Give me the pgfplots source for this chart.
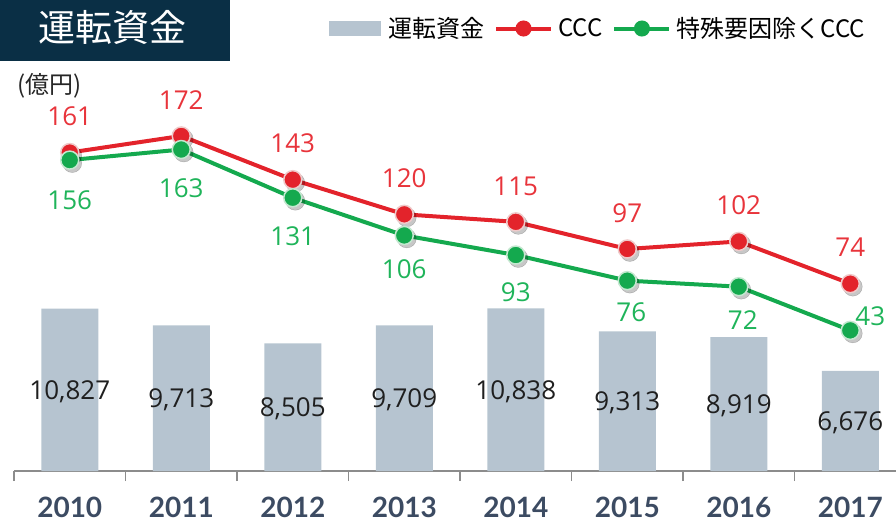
\documentclass[border=0pt]{standalone}
\usepackage{pgfplots}
\pgfplotsset{compat=1.18}
\usepackage{pgfplotstable}
\usepackage{fontspec}
\setmainfont{Open Sans}
\newfontfamily\cjk{Noto Sans CJK JP}
\newfontfamily\lato{Lato}
\definecolor{barc}{HTML}{B6C4D0}
\definecolor{redc}{HTML}{E3232B}
\definecolor{greenc}{HTML}{14A94E}
\definecolor{redt}{HTML}{E8343B}
\definecolor{greent}{HTML}{1FB45A}
\definecolor{navy}{HTML}{0A2F45}
\definecolor{yearc}{HTML}{3C4B62}
\definecolor{axisc}{HTML}{8C8C8C}
\definecolor{redb}{HTML}{EFCACA}
\definecolor{greenb}{HTML}{C4E8D0}

\pgfplotstableread{
x val lab
0 10827 10,827
1 9713 9,713
2 8505 8,505
3 9709 9,709
4 10838 10,838
5 9313 9,313
6 8919 8,919
7 6676 6,676
}\bars

\pgfplotstableread{
x ccc dy dx
0 161 36 0
1 172 36 0
2 143 36 0
3 120 36 0
4 115 36 0
5 97 36 0
6 102 36 0
7 74 36 0
}\red

\pgfplotstableread{
x ccc dy dx
0 156 -40 0
1 163 -39 0
2 131 -38 0
3 106 -34 0
4 93 -37 0
5 76 -32 4
6 72 -33 4
7 43 14 20
}\green

\pgfplotsset{base/.style={scale only axis, width=882pt, height=411pt,
  xmin=-0.5, xmax=7.41, at={(14pt,52pt)}, anchor=south west,
  enlargelimits=false, clip=false}}

\begin{document}
\begin{tikzpicture}
\useasboundingbox (0,0) rectangle (896pt,523pt);
% bars
\begin{axis}[base, ymin=0, ymax=27400,
  axis x line*=bottom, axis y line=none,
  axis line style={axisc, line width=1.5pt},
  xtick={0,...,7}, xticklabels={2010,2011,2012,2013,2014,2015,2016,2017},
  major tick length=0pt,
  minor xtick={-0.5,0.5,...,6.5}, minor tick length=10pt,
  tick align=outside, minor tick style={axisc, line width=1.5pt},
  xticklabel style={font=\lato\bfseries\fontsize{28}{28}\selectfont, text=yearc,
    anchor=north, inner sep=0pt, yshift=-26pt}]
\addplot[ybar, bar width=57pt, fill=barc, draw=none] table[x=x,y=val]{\bars};
\addplot[draw=none, mark=none, nodes near coords, point meta=explicit symbolic,
  every node near coord/.append style={font=\fontsize{26}{26}\selectfont,
    text=black!88, anchor=center, inner sep=0pt, yshift=-2pt}]
  table[x=x, y expr=\thisrow{val}/2, meta=lab]{\bars};
\end{axis}
% lines
\begin{axis}[base, ymin=-50.3, ymax=222.4, hide axis,
  legend columns=-1,
  legend style={draw=none, fill=none, inner sep=0pt,
    at={(axis description cs:0.9649,1.0766)}, anchor=east,
    font=\cjk\fontsize{24}{24}\selectfont,
    nodes={inner sep=0pt},
    /tikz/every even column/.append style={column sep=10pt}}]
\addlegendimage{legend image code/.code={\fill[barc] (0pt,-7pt) rectangle (51pt,7pt); \path (59pt,0pt);}}
\addlegendentry{運転資金}
% shadows
\addplot[forget plot, only marks, mark=*, mark size=9.5pt,
  mark options={fill=black, draw=none, opacity=0.22, xshift=2.5pt, yshift=-3pt}]
  table[x=x,y=ccc]{\red};
\addplot[forget plot, only marks, mark=*, mark size=9.5pt,
  mark options={fill=black, draw=none, opacity=0.22, xshift=2.5pt, yshift=-3pt}]
  table[x=x,y=ccc]{\green};
\addplot[redc, line width=4pt, mark=*, mark size=9pt,
  mark options={fill=redc, draw=redb, line width=1.5pt},
  legend image code/.code={\draw[redc, line width=4pt] (0pt,0pt)--(55pt,0pt); \fill[redc] (27.5pt,0pt) circle (6pt); \path (60pt,0pt);},
  nodes near coords, point meta=explicit symbolic,
  visualization depends on={\thisrow{dy} \as \dy},
  visualization depends on={\thisrow{dx} \as \dx},
  every node near coord/.append style={font=\fontsize{26}{26}\selectfont,
    text=redt, anchor=center, inner sep=0pt, xshift=\dx pt, yshift=\dy pt}]
  table[x=x,y=ccc,meta=ccc]{\red};
\addlegendentry{CCC}
\addplot[greenc, line width=4pt, mark=*, mark size=9pt,
  mark options={fill=greenc, draw=greenb, line width=1.5pt},
  legend image code/.code={\draw[greenc, line width=4pt] (0pt,0pt)--(55pt,0pt); \fill[greenc] (27.5pt,0pt) circle (6pt); \path (60pt,0pt);},
  nodes near coords, point meta=explicit symbolic,
  visualization depends on={\thisrow{dy} \as \dy},
  visualization depends on={\thisrow{dx} \as \dx},
  every node near coord/.append style={font=\fontsize{26}{26}\selectfont,
    text=greent, anchor=center, inner sep=0pt, xshift=\dx pt, yshift=\dy pt}]
  table[x=x,y=ccc,meta=ccc]{\green};
\addlegendentry{特殊要因除くCCC}
\end{axis}
% title box and unit
\fill[navy] (0pt,462pt) rectangle (230pt,523pt);
\node[text=white, font=\cjk\fontsize{37}{37}\selectfont, anchor=center, inner sep=0pt] at (112.5pt,496pt) {運転資金};
\node[text=black!85, font=\cjk\fontsize{24}{24}\selectfont, anchor=center, inner sep=0pt] at (50pt,437pt) {(億円)};
\end{tikzpicture}
\end{document}
